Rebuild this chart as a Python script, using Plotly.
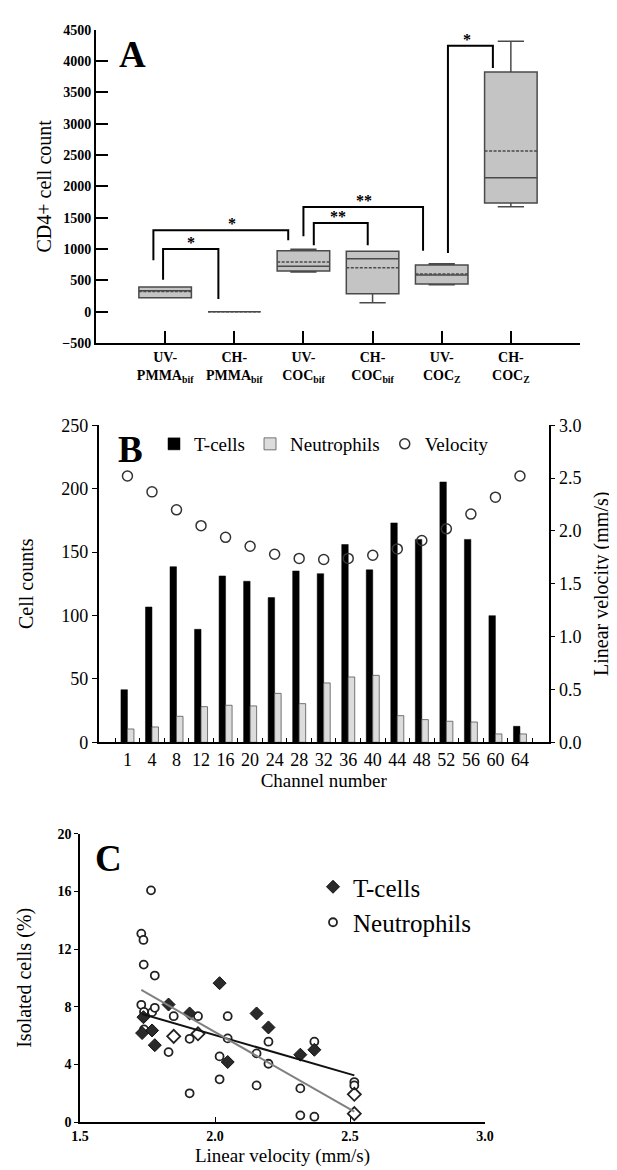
import numpy as np
import plotly.graph_objects as go

# ---------------- Panel A data ----------------
a_labels = ["UV-<br>PMMA<sub>bif</sub>", "CH-<br>PMMA<sub>bif</sub>", "UV-<br>COC<sub>bif</sub>",
            "CH-<br>COC<sub>bif</sub>", "UV-<br>COC<sub>Z</sub>", "CH-<br>COC<sub>Z</sub>"]
a_q1 = [223, 0, 649, 287, 442, 1734]
a_median = [335, 0, 723, 846, 585, 2138]
a_q3 = [394, 0, 973, 963, 745, 3824]
a_mean = [320, 0, 793, 702, 600, 2564]
a_lower = [223, 0, 633, 144, 431, 1676]
a_upper = [394, 0, 995, 963, 766, 4314]
# significance brackets
brk_x0 = [0.97, 0.83, 3.15, 3.0, 5.09]
brk_x1 = [1.77, 2.78, 3.93, 4.73, 5.74]
brk_y0 = [511, 819, 1059, 1202, 936]
brk_y1 = [202, 1138, 1059, 973, 3888]
brk_top = [1000, 1298, 1415, 1670, 4245]
brk_lab = ["*", "*", "**", "**", "*"]
brk_labx = [1.38, 1.96, 3.5, 3.88, 5.36]

# ---------------- Panel B data ----------------
channels = ["1", "4", "8", "12", "16", "20", "24", "28", "32", "36", "40", "44", "48", "52", "56", "60", "64"]
tcells_b = [41.5, 106.7, 138.5, 89.1, 131.2, 127.0, 114.1, 135.1, 133.0, 156, 136, 173, 160, 205.3, 160, 99.9, 12.6]
neutro_b = [10.5, 12.1, 20.5, 28.1, 29.2, 28.7, 38.6, 30.5, 46.8, 51.5, 52.8, 21.0, 17.9, 16.6, 16.0, 6.6, 6.6]
velocity_b = [2.52, 2.37, 2.20, 2.05, 1.94, 1.855, 1.78, 1.74, 1.73, 1.74, 1.77, 1.83, 1.91, 2.02, 2.16, 2.32, 2.52]

# ---------------- Panel C data ----------------
tc_x = [1.73, 1.735, 1.767, 1.777, 1.828, 1.906, 2.017, 2.047, 2.154, 2.198, 2.316, 2.368]
tc_y = [6.17, 7.27, 6.35, 5.33, 8.15, 7.53, 9.63, 4.16, 7.53, 6.56, 4.67, 5.01]
tc_open_x = [1.847, 1.937, 2.516, 2.516]
tc_open_y = [5.94, 6.12, 1.92, 0.58]
ne_x = [1.763, 1.727, 1.735, 1.736, 1.777, 1.727, 1.737, 1.767, 1.777, 1.737, 1.847, 1.828, 1.906, 1.906,
        1.937, 2.017, 2.017, 2.047, 2.047, 2.154, 2.154, 2.198, 2.198, 2.316, 2.316, 2.368, 2.368, 2.516, 2.516]
ne_y = [16.07, 13.07, 12.63, 10.92, 10.16, 8.13, 7.64, 7.62, 7.92, 6.42, 7.34, 4.85, 5.77, 1.99,
        7.34, 4.55, 2.96, 7.34, 5.80, 4.76, 2.54, 5.57, 4.04, 2.33, 0.46, 5.57, 0.37, 2.77, 2.54]

W, H = 617, 1170
SERIF = "Liberation Serif, Times New Roman, serif"


def px_x(p):
    return p / W


def px_y(p):
    return 1 - p / H


fig = go.Figure()

# ---- Panel A boxes ----
fig.add_trace(go.Box(
    x=list(range(1, 7)), q1=a_q1, median=a_median, q3=a_q3, mean=a_mean,
    lowerfence=a_lower, upperfence=a_upper, boxmean=True, width=0.76,
    fillcolor="#c4c4c4", line=dict(color="#4a4a4a", width=1.5),
    xaxis="x", yaxis="y", showlegend=False, hoverinfo="skip"))

for i in range(len(brk_lab)):
    fig.add_trace(go.Scatter(
        x=[brk_x0[i], brk_x0[i], brk_x1[i], brk_x1[i]],
        y=[brk_y0[i], brk_top[i], brk_top[i], brk_y1[i]],
        mode="lines", line=dict(color="black", width=2), xaxis="x", yaxis="y",
        showlegend=False, hoverinfo="skip"))
    fig.add_annotation(x=brk_labx[i], y=brk_top[i], xref="x", yref="y", text="<b>" + brk_lab[i] + "</b>",
                       showarrow=False, yanchor="bottom", yshift=-4,
                       font=dict(family=SERIF, size=16, color="black"))

# ---- Panel B ----
fig.add_trace(go.Bar(x=channels, y=tcells_b, name="T-cells",
                     marker=dict(color="black", line=dict(color="black", width=0.5)),
                     xaxis="x2", yaxis="y2", legend="legend"))
fig.add_trace(go.Bar(x=channels, y=neutro_b, name="Neutrophils",
                     marker=dict(color="#dcdcdc", line=dict(color="#555555", width=0.8)),
                     xaxis="x2", yaxis="y2", legend="legend"))
fig.add_trace(go.Scatter(x=channels, y=velocity_b, name="Velocity", mode="markers",
                         marker=dict(symbol="circle-open", size=10, color="#333333", line=dict(width=1.5)),
                         xaxis="x2", yaxis="y3", legend="legend"))

# ---- Panel C ----
fig.add_trace(go.Scatter(x=ne_x, y=ne_y, name="Neutrophils", mode="markers",
                         marker=dict(symbol="circle", size=8, color="white", line=dict(color="#222222", width=1.8)),
                         xaxis="x3", yaxis="y4", legend="legend2"))
fig.add_trace(go.Scatter(x=tc_x, y=tc_y, name="T-cells", mode="markers",
                         marker=dict(symbol="diamond", size=10, color="#2a2a2a", line=dict(color="#111111", width=1)),
                         xaxis="x3", yaxis="y4", legend="legend2"))
fig.add_trace(go.Scatter(x=tc_open_x, y=tc_open_y, mode="markers", showlegend=False,
                         marker=dict(symbol="diamond-open", size=10, color="#222222", line=dict(width=1.8)),
                         xaxis="x3", yaxis="y4"))

all_tx = np.array(tc_x + tc_open_x)
all_ty = np.array(tc_y + tc_open_y)
kt = np.polyfit(all_tx, all_ty, 1)
xt = np.array([all_tx.min(), all_tx.max()])
fig.add_trace(go.Scatter(x=xt, y=np.polyval(kt, xt), mode="lines", line=dict(color="#111111", width=2),
                         showlegend=False, xaxis="x3", yaxis="y4", hoverinfo="skip"))
nx = np.array(ne_x)
kn = np.polyfit(nx, np.array(ne_y), 1)
xn = np.array([nx.min(), nx.max()])
fig.add_trace(go.Scatter(x=xn, y=np.polyval(kn, xn), mode="lines", line=dict(color="#808080", width=2),
                         showlegend=False, xaxis="x3", yaxis="y4", hoverinfo="skip"))

axis_common = dict(showline=True, linecolor="black", showgrid=False, zeroline=False, tickcolor="black",
                   automargin=False)

fig.update_layout(
    template="none",
    width=W, height=H, margin=dict(l=0, r=0, t=0, b=0, autoexpand=False),
    paper_bgcolor="white", plot_bgcolor="white",
    font=dict(family=SERIF, color="black"),
    barmode="group", bargap=0.47, bargroupgap=0.0,
    # Panel A
    xaxis=dict(domain=[px_x(88), px_x(572)], range=[0, 7], tickvals=list(range(1, 7)),
               ticktext=["<b>" + t + "</b>" for t in a_labels],
               ticks="inside", ticklen=12, tickwidth=2, linewidth=2,
               minor=dict(tickvals=[7], ticks="inside", ticklen=12, tickwidth=2, tickcolor="black"),
               tickfont=dict(family=SERIF, size=14), anchor="y", **axis_common),
    yaxis=dict(domain=[px_y(335), px_y(21.7)], range=[-500, 4500], dtick=500,
               ticks="inside", ticklen=12, tickwidth=2, linewidth=2,
               tickfont=dict(family=SERIF, size=14, weight="bold"), anchor="x",
               title=dict(text="CD4+ cell count", font=dict(family=SERIF, size=20), standoff=5),
               **axis_common),
    # Panel B
    xaxis2=dict(domain=[px_x(90.7), px_x(540.7)], type="category", tickson="boundaries",
                ticks="inside", ticklen=5,
                tickangle=0, linewidth=1.5, anchor="y2", tickfont=dict(family=SERIF, size=18),
                title=dict(text="Channel number", font=dict(family=SERIF, size=19), standoff=4),
                **axis_common),
    yaxis2=dict(domain=[px_y(734.3), px_y(417.3)], range=[0, 250], dtick=50, ticks="outside", ticklen=5,
                linewidth=1.5, anchor="x2", tickfont=dict(family=SERIF, size=18),
                title=dict(text="Cell counts", font=dict(family=SERIF, size=20), standoff=22),
                **axis_common),
    yaxis3=dict(range=[0, 3], dtick=0.5, tickformat=".1f", ticks="outside", ticklen=5,
                overlaying="y2", side="right", anchor="x2", linewidth=1.5,
                tickfont=dict(family=SERIF, size=18),
                title=dict(text="Linear velocity (mm/s)", font=dict(family=SERIF, size=20), standoff=13),
                **axis_common),
    # Panel C
    xaxis3=dict(domain=[px_x(72), px_x(477)], range=[1.5, 3.0], dtick=0.5, tickformat=".1f",
                ticks="inside", ticklen=5, linewidth=1.5, anchor="y4",
                tickfont=dict(family=SERIF, size=14, weight="bold"),
                title=dict(text="Linear velocity (mm/s)", font=dict(family=SERIF, size=19), standoff=6),
                **axis_common),
    yaxis4=dict(domain=[px_y(1114), px_y(825.7)], range=[0, 20], dtick=4, ticks="outside", ticklen=4,
                linewidth=1.5, anchor="x3", tickfont=dict(family=SERIF, size=14, weight="bold"),
                title=dict(text="Isolated cells (%)", font=dict(family=SERIF, size=20), standoff=20),
                **axis_common),
    legend=dict(orientation="h", x=px_x(146), y=px_y(436), xanchor="left", yanchor="middle",
                font=dict(family=SERIF, size=19), bgcolor="rgba(0,0,0,0)", itemwidth=30,
                traceorder="normal"),
    legend2=dict(orientation="v", x=px_x(305), y=px_y(856), xanchor="left", yanchor="top",
                 font=dict(family=SERIF, size=25), bgcolor="rgba(0,0,0,0)", itemwidth=30,
                 traceorder="reversed"),
)

for txt, cx, cy in [("A", 124, 47), ("B", 122, 441), ("C", 100, 850)]:
    fig.add_annotation(x=px_x(cx), y=px_y(cy), xref="paper", yref="paper", text="<b>" + txt + "</b>",
                       showarrow=False, xanchor="center", yanchor="middle",
                       font=dict(family=SERIF, size=37, color="black"))

fig.write_html("out.html")
